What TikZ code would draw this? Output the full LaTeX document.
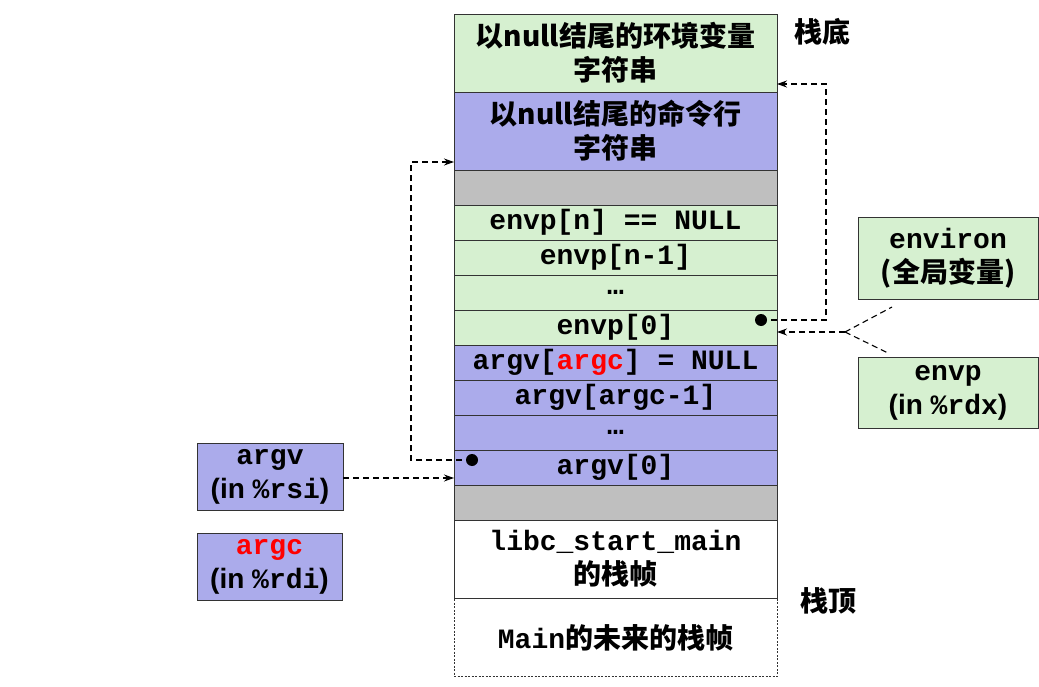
\documentclass[tikz,border=0pt]{standalone}
\usepackage{fontspec}
\setmainfont{Liberation Sans}
\setmonofont{Liberation Mono}
\newfontfamily\cjk{Noto Sans CJK SC Bold}
\usetikzlibrary{arrows.meta}
\definecolor{gr}{RGB}{214,240,208}
\definecolor{bl}{RGB}{171,171,235}
\definecolor{gy}{RGB}{191,191,191}
\definecolor{rd}{RGB}{255,0,0}
\newcommand\zh[1]{{\cjk #1}}
\newcommand\tb[1]{{\ttfamily\bfseries #1}}
\tikzset{
  txt/.style={font=\fontsize{28}{34}\selectfont\bfseries, align=center, inner sep=0pt, outer sep=0pt},
  cell/.style={txt, draw=black!80, line width=0.8pt, minimum width=323pt},
  row/.style={cell, minimum height=35pt},
  big/.style={cell, minimum height=78pt},
  side/.style={txt, draw=black!80, line width=0.8pt},
  conn/.style={line width=1.1pt, dash pattern=on 6pt off 4pt},
  arr/.style={conn, -{Stealth[length=10pt,width=7pt]}},
  dot/.style={circle, fill=black, inner sep=0pt, minimum size=12pt}
}
\begin{document}
\begin{tikzpicture}[x=1pt,y=-1pt]
\useasboundingbox (0,0) rectangle (1039,687);
% stack
\node[big, fill=gr] (envstr) at (615.5,53) {\zh{以null结尾的环境变量}\\\zh{字符串}};
\node[big, fill=bl] (argstr) at (615.5,131) {\zh{以null结尾的命令行}\\\zh{字符串}};
\node[row, fill=gy] (gap1) at (615.5,187.5) {};
\node[row, fill=gr] (envn) at (615.5,222.5) {\tb{envp[n] == NULL}};
\node[row, fill=gr] (envn1) at (615.5,257.5) {\tb{envp[n-1]}};
\node[row, fill=gr] (envdots) at (615.5,292.5) {\tb{…}};
\node[row, fill=gr] (env0) at (615.5,327.5) {\tb{envp[0]}};
\node[row, fill=bl] (argvnull) at (615.5,362.5) {\tb{argv[\textcolor{rd}{argc}] = NULL}};
\node[row, fill=bl] (argvc1) at (615.5,397.5) {\tb{argv[argc-1]}};
\node[row, fill=bl] (argvdots) at (615.5,432.5) {\tb{…}};
\node[row, fill=bl] (argv0) at (615.5,467.5) {\tb{argv[0]}};
\node[row, fill=gy] (gap2) at (615.5,502.5) {};
\node[big, fill=white] (libc) at (615.5,559) {\tb{libc\_start\_main}\\\zh{的栈帧}};
\node[big, draw=black!80, line width=0.8pt, dash pattern=on 2pt off 1.5pt] (mainf) at (615.5,637.5) {\tb{Main}\zh{的未来的栈帧}};
% labels
\node[txt] (bottom) at (822,32) {\zh{栈底}};
\node[txt] (top) at (828,601) {\zh{栈顶}};
% side boxes
\node[side, fill=gr, minimum width=180pt, minimum height=82pt] (environ) at (948,258) {\tb{environ}\\\zh{(全局变量)}};
\node[side, fill=gr, minimum width=180pt, minimum height=71pt] (envp) at (948,392.5) {\tb{envp}\\(in \tb{\%rdx})};
\node[side, fill=bl, minimum width=146pt, minimum height=67pt] (argvbox) at (270,476.5) {\tb{argv}\\(in \tb{\%rsi})};
\node[side, fill=bl, minimum width=145pt, minimum height=67pt] (argcbox) at (269.5,566.5) {\tb{\textcolor{rd}{argc}}\\(in \tb{\%rdi})};
% connectors
\node[dot] (envdot) at (761,320) {};
\node[dot] (argvdot) at (472,460) {};
\coordinate (fork) at (845,332);
\coordinate (forkup) at (892,307);
\coordinate (forkdn) at (888,353);
\draw[arr] (envdot.center) -- (826,320) -- (826,84) -- (envstr.east |- 0,84);
\draw[arr] (argvdot.center) -- (411,460) -- (411,162) -- (argstr.west |- 0,162);
\draw[arr] (argvbox.east |- 0,478) -- (argv0.west |- 0,478);
\draw[arr] (fork) -- (env0.east |- fork);
\draw[conn] (fork) -- (forkup);
\draw[conn] (fork) -- (forkdn);
\end{tikzpicture}
\end{document}
